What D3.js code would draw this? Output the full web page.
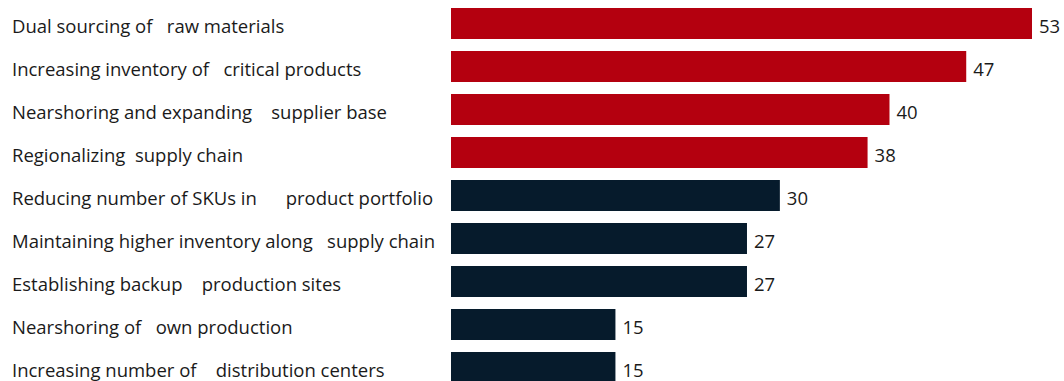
<!DOCTYPE html>
<html>
<head>
<meta charset="utf-8">
<script src="https://cdn.jsdelivr.net/npm/d3@7"></script>
<style>
  body { margin: 0; background: #fff; }
  text { font-family: "Open Sans", sans-serif; fill: #1a1a1a; white-space: pre; }
</style>
</head>
<body>
<div id="chart"></div>
<script>
var svgWidth = 1064;
var svgHeight = 381;

// data
var categories = [
  "Dual sourcing of   raw materials",
  "Increasing inventory of   critical products",
  "Nearshoring and expanding    supplier base",
  "Regionalizing  supply chain",
  "Reducing number of SKUs in      product portfolio",
  "Maintaining higher inventory along   supply chain",
  "Establishing backup    production sites",
  "Nearshoring of   own production",
  "Increasing number of    distribution centers"
];
var values = [53, 47, 40, 38, 30, 27, 27, 15, 15];
var highlighted = [true, true, true, true, false, false, false, false, false];

var barLeft = 451;

var svg = d3.select("#chart")
  .append("svg")
  .attr("width", svgWidth)
  .attr("height", svgHeight);

var xScale = d3.scaleLinear()
  .domain([0, 53])
  .range([0, 581]);

var yScale = d3.scaleBand()
  .domain(categories)
  .range([2, 2 + 43 * categories.length])
  .paddingInner(12 / 43)
  .paddingOuter(6 / 43);

var rows = svg.append("g").selectAll("g")
  .data(categories)
  .enter()
  .append("g")
  .attr("transform", d => `translate(0, ${yScale(d)})`);

// category labels
rows.append("text")
  .attr("x", 12)
  .attr("y", yScale.bandwidth() / 2 + 9.5)
  .attr("font-size", 18.5)
  .text(d => d);

// bars
rows.append("rect")
  .attr("x", barLeft)
  .attr("y", 0)
  .attr("width", (d, i) => xScale(values[i]))
  .attr("height", yScale.bandwidth())
  .attr("fill", (d, i) => highlighted[i] ? "#b4000f" : "#061b2c");

// value labels
rows.append("text")
  .attr("x", (d, i) => barLeft + xScale(values[i]) + 7)
  .attr("y", yScale.bandwidth() / 2 + 9.5)
  .attr("font-size", 18.5)
  .text((d, i) => values[i]);
</script>
</body>
</html>
